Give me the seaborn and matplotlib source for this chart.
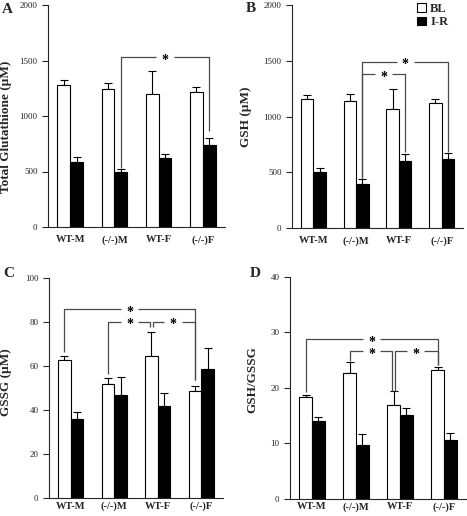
import numpy as np
import pandas as pd
import matplotlib
matplotlib.use("Agg")
import matplotlib.pyplot as plt
from matplotlib.patches import Patch
import seaborn as sns

# ---------------- data ----------------
groups = ["WT-M", "(-/-)M", "WT-F", "(-/-)F"]
conds = ["BL", "I-R"]

A_BL = [1280, 1247, 1202, 1220]
A_BL_err = [45, 54, 201, 42]
A_IR = [582, 495, 624, 738]
A_IR_err = [45, 27, 36, 62]

B_BL = [1157, 1142, 1070, 1121]
B_BL_err = [36, 57, 174, 36]
B_IR = [499, 395, 604, 616]
B_IR_err = [36, 41, 60, 54]

C_BL = [62.9, 51.8, 64.5, 48.6]
C_BL_err = [1.6, 2.7, 11.0, 2.6]
C_IR = [36.1, 47.1, 41.8, 58.8]
C_IR_err = [3.3, 8.1, 5.9, 9.7]

D_BL = [18.4, 22.6, 16.85, 23.2]
D_BL_err = [0.4, 2.0, 2.55, 0.5]
D_IR = [14.1, 9.65, 15.1, 10.7]
D_IR_err = [0.7, 2.1, 1.3, 1.2]

ylabels = ["Total Glutathione (µM)", "GSH (µM)", "GSSG (µM)", "GSH/GSSG"]
letters = ["A", "B", "C", "D"]
yticks = [[0, 500, 1000, 1500, 2000], [0, 500, 1000, 1500, 2000],
          [0, 20, 40, 60, 80, 100], [0, 10, 20, 30, 40]]

# significance brackets: (group_a, cond_a, group_b, cond_b, y_line, leg_end_a, leg_end_b, xoff_a, xoff_b)
A_sig = [(1, "I-R", 3, "I-R", 1530, 530, 865, 0, 0)]
B_sig = [(1, "I-R", 3, "I-R", 1492, 445, 685, 0, 0),
         (1, "I-R", 2, "I-R", 1381, 445, 685, 0, 0)]
C_sig = [(0, "BL", 3, "BL", 85.9, 66.5, 53.8, 0, 0),
         (1, "BL", 2, "BL", 80.3, 56.4, 77.7, 0, -0.035),
         (2, "BL", 3, "BL", 80.3, 77.7, 53.8, 0.035, 0)]
D_sig = [(0, "BL", 3, "BL", 28.7, 19.3, 24.1, 0, 0),
         (1, "BL", 2, "BL", 26.6, 24.8, 19.5, 0, -0.03),
         (2, "BL", 3, "BL", 26.6, 19.5, 24.1, 0.03, 0)]

# ---------------- style ----------------
sns.set_style("ticks")
plt.rcParams["font.family"] = ["Liberation Serif", "DejaVu Serif"]
plt.rcParams["axes.linewidth"] = 0.8

W, H = 467, 516
fig = plt.figure(figsize=(W / 100, H / 100), dpi=100)

rects_px = [(48, 227, 177, 222), (292, 228, 171, 223),
            (49, 498.3, 174, 220), (290, 499, 176, 222.3)]
ylab_pos = [(-0.203, 0.45), (-0.234, 0.50), (-0.213, 0.527), (-0.182, 0.536)]
letter_px = [(2, 13), (246, 12), (3, 277), (250, 277)]
xpad = [6, 6, 2.5, 2.5]

panels = [(A_BL, A_BL_err, A_IR, A_IR_err, A_sig),
          (B_BL, B_BL_err, B_IR, B_IR_err, B_sig),
          (C_BL, C_BL_err, C_IR, C_IR_err, C_sig),
          (D_BL, D_BL_err, D_IR, D_IR_err, D_sig)]

palette = {"BL": "white", "I-R": "black"}
br_color = "#4a4a4a"

for i, (bl, ble, ir, ire, sig) in enumerate(panels):
    lx, by, wpx, hpx = rects_px[i]
    ax = fig.add_axes([lx / W, 1 - by / H, wpx / W, hpx / H])
    df = pd.DataFrame({
        "group": groups * 2,
        "cond": ["BL"] * 4 + ["I-R"] * 4,
        "value": list(bl) + list(ir),
    })
    sns.barplot(data=df, x="group", y="value", hue="cond", order=groups,
                hue_order=conds, palette=palette, edgecolor="black",
                linewidth=0.8, width=0.58, gap=0, errorbar=None,
                legend=False, ax=ax, zorder=3)
    # error bars (upper only) from bar geometry
    centers = {}
    for cont, cname, errs in zip(ax.containers, conds, [ble, ire]):
        xs = [p.get_x() + p.get_width() / 2 for p in cont.patches]
        ys = [p.get_height() for p in cont.patches]
        centers[cname] = xs
        ax.errorbar(xs, ys, yerr=[np.zeros(len(errs)), errs], fmt="none",
                    ecolor="black", elinewidth=0.8, capsize=2.9,
                    capthick=0.8, zorder=2)
    # brackets
    gap = 0.2
    for (ga, ca, gb, cb, yl, la, lb, oa, ob) in sig:
        xa = centers[ca][ga] + oa
        xb = centers[cb][gb] + ob
        xm = (centers[ca][ga] + centers[cb][gb]) / 2
        ax.plot([xa, xa, xm - gap], [la, yl, yl], color=br_color, lw=0.9,
                solid_capstyle="butt", zorder=4, clip_on=False)
        ax.plot([xm + gap, xb, xb], [yl, yl, lb], color=br_color, lw=0.9,
                solid_capstyle="butt", zorder=4, clip_on=False)
        ax.annotate("*", xy=(xm, yl), xytext=(0, -4.9),
                    textcoords="offset points", ha="center", va="baseline",
                    fontsize=10, fontweight="bold", color="black")
    ax.set_xlim(-0.5, 3.5)
    ax.set_ylim(yticks[i][0], yticks[i][-1])
    ax.set_yticks(yticks[i])
    ax.set_yticklabels([str(t) for t in yticks[i]])
    ax.tick_params(axis="y", direction="out", length=4.5, width=0.8,
                   labelsize=6.5, pad=3)
    ax.tick_params(axis="x", length=0, labelsize=7.5, pad=xpad[i])
    for lab in ax.get_xticklabels():
        lab.set_fontweight("bold")
    ax.set_xlabel("")
    ax.set_ylabel(ylabels[i], fontsize=9.5, fontweight="bold")
    ax.yaxis.set_label_coords(*ylab_pos[i])
    sns.despine(ax=ax)
    ax.set_facecolor("none")
    fx, fy = letter_px[i]
    fig.text(fx / W, 1 - fy / H, letters[i], fontsize=11, fontweight="bold",
             ha="left", va="baseline")
    if i == 1:
        handles = [Patch(facecolor=palette[c], edgecolor="black",
                         linewidth=0.8, label=c) for c in conds]
        ax.legend(handles=handles, loc="upper left",
                  bbox_to_anchor=(417 / W, 1 - 3 / H),
                  bbox_transform=fig.transFigure, frameon=False,
                  handlelength=0.7, handleheight=0.7,
                  handletextpad=0.35, labelspacing=0.1, borderpad=0,
                  borderaxespad=0,
                  prop={"family": "Liberation Serif", "weight": "bold",
                        "size": 9})

fig.savefig("out.png", dpi=100, facecolor="white")
